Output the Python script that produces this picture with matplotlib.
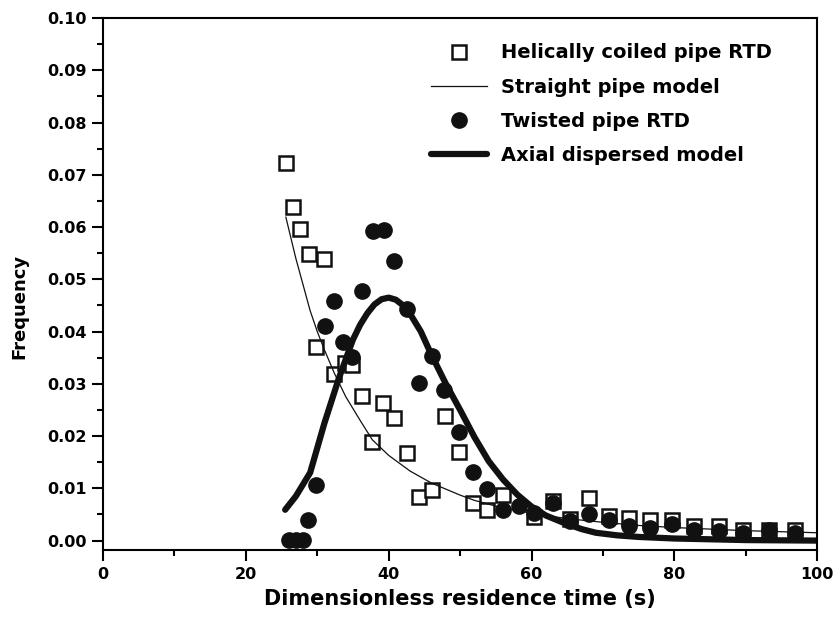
import numpy as np
import matplotlib
matplotlib.use('Agg')
import matplotlib.pyplot as plt
from matplotlib.ticker import MultipleLocator

plt.rcParams['font.family'] = ['DejaVu Sans']
plt.rcParams['font.weight'] = 'bold'

# helically coiled pipe RTD (open squares)
coil_t = [25.6, 26.6, 27.6, 28.8, 31.0, 29.8, 32.4, 33.9, 34.9, 36.3, 39.2, 40.8,
          37.7, 42.5, 47.9, 49.8, 44.3, 46.0, 51.8, 53.8, 56.0, 60.4, 63.0, 68.1,
          65.4, 70.9, 73.7, 76.6, 79.6, 82.8, 86.2, 89.6, 93.2, 96.9]
coil_f = [0.0722, 0.0639, 0.0597, 0.0548, 0.0539, 0.0370, 0.0319, 0.0340, 0.0337,
          0.0277, 0.0263, 0.0235, 0.0188, 0.0168, 0.0238, 0.0169, 0.0083, 0.0096,
          0.0072, 0.0059, 0.0088, 0.0046, 0.0075, 0.0082, 0.0042, 0.0047, 0.0043,
          0.0040, 0.0040, 0.0027, 0.0027, 0.0021, 0.0021, 0.0021]

# twisted pipe RTD (filled circles)
twist_t = [26.0, 27.0, 28.0, 28.7, 29.8, 31.1, 32.3, 33.6, 34.9, 36.3, 37.8, 39.3,
           40.8, 42.6, 44.3, 46.0, 47.7, 49.8, 51.8, 53.8, 56.0, 58.2, 60.4, 63.0,
           65.4, 68.1, 70.9, 73.7, 76.6, 79.6, 82.8, 86.2, 89.6, 93.2, 96.9]
twist_f = [0.0002, 0.0002, 0.0002, 0.0040, 0.0106, 0.0411, 0.0458, 0.0381, 0.0352,
           0.0477, 0.0593, 0.0595, 0.0535, 0.0444, 0.0301, 0.0354, 0.0289, 0.0207,
           0.0131, 0.0099, 0.0059, 0.0067, 0.0053, 0.0072, 0.0037, 0.0050, 0.0040,
           0.0027, 0.0024, 0.0031, 0.0021, 0.0018, 0.0015, 0.0021, 0.0015]

# straight pipe model (thin line)
straight_t = [25.6, 27, 28, 29, 30, 31, 32.4, 34, 36, 37.7, 40, 43, 46, 50, 52, 55,
              60, 65, 70, 75, 80, 90, 100]
straight_f = [0.0619, 0.054, 0.049, 0.044, 0.040, 0.0365, 0.032, 0.0275, 0.023,
              0.0193, 0.0163, 0.0133, 0.011, 0.0087, 0.0077, 0.0066, 0.0052, 0.0042,
              0.0035, 0.0029, 0.0025, 0.0019, 0.0015]

# axial dispersed model (thick line)
axial_t = [25.5, 27, 29, 31, 33, 35, 36, 37, 38, 39, 40, 41, 42.5, 44.5, 46, 48, 50,
           52, 54, 56, 58, 60, 62, 64.5, 67, 69, 72, 75, 80, 90, 100]
axial_f = [0.0059, 0.0085, 0.013, 0.0225, 0.031, 0.0385, 0.0413, 0.0435, 0.0452,
           0.0462, 0.0465, 0.0461, 0.0445, 0.040, 0.0355, 0.030, 0.025, 0.0198,
           0.0152, 0.0117, 0.0088, 0.0065, 0.0048, 0.0034, 0.0022, 0.0015, 0.0010,
           0.0007, 0.0004, 0.0001, 0.0]

fig = plt.figure(figsize=(8.34, 6.25), dpi=100)
ax = fig.add_axes([0.1235, 0.12, 0.8565, 0.851])

ax.plot(coil_t, coil_f, ls='none', marker='s', ms=10, mfc='white', mec='#111111',
        mew=1.8, label='Helically coiled pipe RTD')
ax.plot(straight_t, straight_f, color='#111111', lw=0.9, label='Straight pipe model')
ax.plot(twist_t, twist_f, ls='none', marker='o', ms=11, color='#111111',
        label='Twisted pipe RTD')
ax.plot(axial_t, axial_f, color='#111111', lw=4.5, solid_capstyle='round',
        solid_joinstyle='round', label='Axial dispersed model')

ax.set_xlim(0, 100)
ax.set_ylim(-0.0018, 0.10)
ax.xaxis.set_major_locator(MultipleLocator(20))
ax.xaxis.set_minor_locator(MultipleLocator(10))
ax.yaxis.set_major_locator(MultipleLocator(0.01))
ax.yaxis.set_minor_locator(MultipleLocator(0.005))
ax.yaxis.set_major_formatter(plt.FormatStrFormatter('%.2f'))
ax.tick_params(which='both', direction='out', top=False, right=False,
               labelsize=11.5, width=1.5, pad=4)
ax.tick_params(which='major', length=8)
ax.tick_params(which='minor', length=4.5)
for s in ax.spines.values():
    s.set_linewidth(1.5)

ax.set_xlabel('Dimensionless residence time (s)', fontsize=15, fontweight='bold', labelpad=5)
ax.set_ylabel('Frequency', fontsize=13, fontweight='bold')
ax.yaxis.set_label_coords(-0.104, 0.457)

ax.legend(loc='upper left', bbox_to_anchor=(413 / 834, 1 - 26 / 625),
          bbox_transform=fig.transFigure, frameon=False, fontsize=14,
          handlelength=2.9, handletextpad=0.75, labelspacing=0.78, markerscale=1.0)

fig.savefig('out.png', dpi=100)
